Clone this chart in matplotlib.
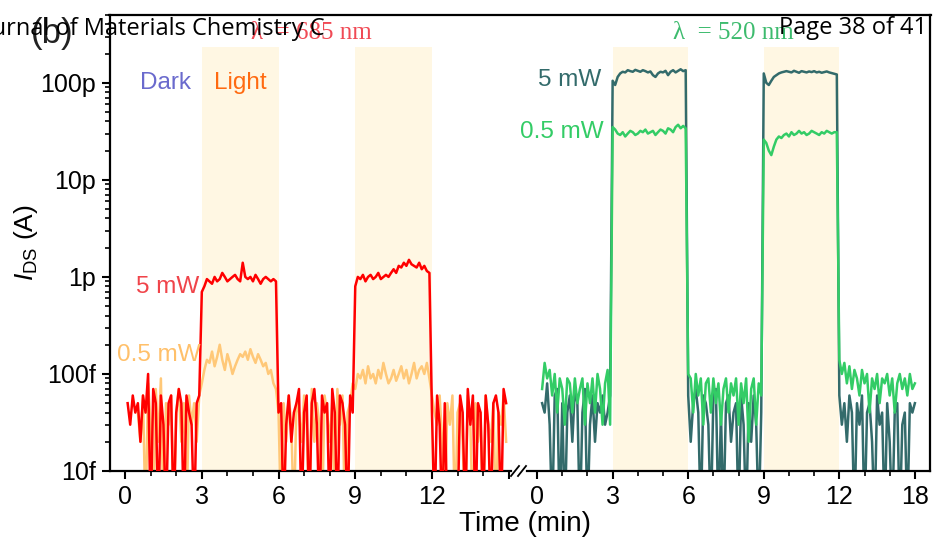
import numpy as np
import matplotlib
matplotlib.use("Agg")
import matplotlib.pyplot as plt
from matplotlib.lines import Line2D
from matplotlib.ticker import FixedLocator, MultipleLocator, LogLocator, NullFormatter, FixedFormatter

plt.rcParams['font.family'] = ['Liberation Sans', 'DejaVu Sans']
plt.rcParams['mathtext.fontset'] = 'custom'
plt.rcParams['mathtext.rm'] = 'Liberation Sans'
plt.rcParams['mathtext.it'] = 'Liberation Sans:italic'

# ---------------- data (currents in fA; 0 = below 10 fA) ----------------
# Left panel: 685 nm illumination, sampled every 0.1 min from 0.1 to 14.9 min
t_685 = np.round(np.arange(1, 150) * 0.1, 1)

red_5mW = [
    # dark 0.1-2.9
    50, 30, 60, 40, 50, 20, 60, 40, 100, 0, 70, 50, 0, 60, 30, 0, 50, 60, 0, 40, 70, 50, 0, 60, 40, 30, 0, 50, 60,
    # light 3.0-5.9
    700, 800, 950, 900, 850, 1000, 900, 950, 1100, 1000, 900, 950, 1000, 1050, 950, 900, 1400, 1000, 950, 1000,
    900, 1050, 950, 850, 950, 1000, 950, 900, 950, 900,
    # dark 6.0-8.9
    40, 50, 0, 30, 60, 20, 40, 50, 70, 0, 40, 60, 0, 50, 70, 30, 0, 60, 40, 50, 0, 70, 40, 0, 60, 50, 30, 0, 60, 40,
    # light 9.0-11.9
    800, 1000, 950, 1050, 900, 1000, 1050, 950, 1000, 1100, 950, 1000, 1050, 1000, 1100, 1200, 1100, 1300, 1250, 1400,
    1300, 1500, 1350, 1300, 1250, 1400, 1200, 1300, 1150, 1100,
    # dark 12.0-14.9
    40, 0, 60, 30, 0, 50, 0, 0, 0, 0, 0, 60, 40, 0, 70, 30, 60, 0, 50, 40, 0, 60, 30, 0, 50, 60, 40, 0, 70, 50,
]

orange_05mW = [
    # dark 0.1-2.9
    np.nan, np.nan, np.nan, np.nan, 40, 20, 60, 0, 80, 30, 0, 70, 20, 90, 0, 50, 30, 60, 0, 40, 70, 20, 50, 0, 60, 30,
    50, 20, 60,
    # light 3.0-5.9
    80, 110, 140, 130, 170, 120, 150, 200, 140, 110, 160, 130, 100, 120, 140, 160, 150, 170, 140, 180,
    150, 130, 160, 140, 120, 130, 100, 110, 80, 70,
    # dark 6.0-8.9
    40, 0, 50, 20, 60, 30, 0, 50, 40, 20, 60, 30, 0, 70, 20, 50, 30, 0, 60, 40, 20, 50, 0, 70, 30, 60, 0, 40, 50, 80,
    # light 9.0-11.9
    70, 100, 90, 110, 80, 120, 90, 100, 80, 110, 90, 130, 100, 80, 90, 110, 85, 100, 120, 90,
    110, 80, 100, 130, 90, 110, 120, 100, 130, 90,
    # dark 12.0-14.9
    60, 40, 30, 60, 20, 0, 50, 30, 60, 0, 40, 50, 20, 0, 60, 30, 0, 50, 20, 40, 0, 60, 30, 20, 50, 0, 40, 30, 60, 20,
]

# Right panel: 520 nm illumination, sampled every 0.1 min from 0.2 to 15.0 min
t_520 = np.round(np.arange(2, 151) * 0.1, 1)

teal_5mW = [
    # dark 0.2-2.9
    50, 40, 80, 30, 0, 60, 70, 0, 50, 0, 40, 60, 20, 70, 50, 0, 40, 70, 0, 30, 60, 20, 50, 40, 60, 30, 40, 60,
    # light 3.0-5.9
    105000, 95000, 115000, 125000, 130000, 128000, 135000, 132000, 130000, 136000, 133000, 130000, 135000, 132000,
    128000, 131000, 120000, 115000, 125000, 130000, 128000, 133000, 120000, 130000, 135000, 128000, 133000, 138000,
    132000, 135000,
    # dark 6.0-8.9
    60, 20, 50, 70, 40, 0, 60, 50, 30, 0, 60, 70, 0, 40, 0, 50, 60, 20, 40, 50, 0, 60, 30, 0, 50, 20, 60, 30, 0, 40,
    # light 9.0-11.9
    125000, 100000, 95000, 105000, 115000, 120000, 125000, 128000, 130000, 132000, 130000, 128000, 133000, 130000,
    127000, 132000, 130000, 128000, 131000, 129000, 132000, 128000, 130000, 127000, 129000, 131000, 128000, 126000,
    124000, 122000,
    # dark 12.0-15.0
    60, 30, 50, 20, 60, 40, 0, 50, 30, 60, 0, 40, 50, 20, 0, 60, 30, 40, 0, 50, 20, 0, 40, 50, 0, 30, 40, 0, 50, 40, 50,
]

green_05mW = [
    # dark 0.2-2.9
    70, 130, 90, 110, 60, 100, 40, 90, 70, 30, 90, 80, 40, 90, 50, 70, 90, 30, 80, 50, 90, 40, 100, 70, 30, 80, 110, 30,
    # light 3.0-5.9
    35000, 33000, 30000, 29000, 31000, 28000, 30000, 32000, 31000, 29000, 30000, 32000, 31000, 33000, 30000, 31000,
    32000, 29000, 31000, 33000, 32000, 30000, 34000, 33000, 31000, 35000, 37000, 34000, 36000, 34000,
    # dark 6.0-8.9
    100, 90, 40, 100, 60, 90, 30, 80, 90, 40, 90, 50, 80, 30, 70, 90, 40, 80, 60, 90, 30, 80, 50, 90, 20, 70, 90, 30,
    80, 60,
    # light 9.0-11.9
    26000, 24000, 20000, 18000, 22000, 26000, 28000, 27000, 29000, 30000, 28000, 31000, 29000, 30000, 32000, 30000,
    31000, 29000, 30000, 32000, 31000, 30000, 29000, 31000, 30000, 32000, 31000, 30000, 31000, 31000,
    # dark 12.0-15.0
    140, 100, 130, 80, 120, 70, 110, 90, 60, 110, 80, 100, 40, 90, 70, 100, 50, 90, 80, 100, 60, 90, 40, 80, 100, 70,
    90, 60, 100, 70, 80,
]

light_windows = [(3, 6), (9, 12)]
y_ticks = [1e-14, 1e-13, 1e-12, 1e-11, 1e-10]
y_ticklabels = ['10f', '100f', '1p', '10p', '100p']
left_xticks = [0, 3, 6, 9, 12, 15]
left_xticklabels = ['0', '3', '6', '9', '12', '']
right_xticks = [0, 3, 6, 9, 12, 15]
right_xticklabels = ['0', '3', '6', '9', '12', '18']


def to_amps(vals):
    a = np.array(vals, dtype=float) * 1e-15
    a[a == 0] = 3e-15  # below 10 fA floor -> clipped at bottom
    return a


W, H = 936, 553
fig = plt.figure(figsize=(W / 100, H / 100), dpi=100)


def fx(px):
    return px / W


def fy(py):
    return 1 - py / H


ax_l = fig.add_axes([fx(110), fy(471), fx(511) - fx(110), fy(15) - fy(471)])
ax_r = fig.add_axes([fx(527), fy(471), fx(930) - fx(527), fy(15) - fy(471)])

shade = '#FFF7E3'
for ax in (ax_l, ax_r):
    ax.set_yscale('log')
    ax.set_ylim(1e-14, 5e-10)
    for a, b in light_windows:
        ax.axvspan(a, b, ymin=0, ymax=0.93, color=shade, lw=0, zorder=0)
    ax.xaxis.set_minor_locator(MultipleLocator(1))
    ax.tick_params(axis='both', which='major', direction='out', length=6, width=1.5, labelsize=18, pad=4)
    ax.tick_params(axis='both', which='minor', direction='out', length=3.5, width=1.2)
    for s in ax.spines.values():
        s.set_linewidth(1.6)
    ax.spines['top'].set_visible(False)

ax_l.plot(t_685, to_amps(orange_05mW), color='#FFC878', lw=1.8, zorder=2)
ax_l.plot(t_685, to_amps(red_5mW), color='#FF0000', lw=1.8, zorder=3)
ax_r.plot(t_520, to_amps(teal_5mW), color='#336B6B', lw=1.8, zorder=2)
ax_r.plot(t_520, to_amps(green_05mW), color='#33CC66', lw=1.8, zorder=3)

ax_l.set_xlim(-0.59, 15.09)
ax_r.set_xlim(-0.4, 15.6)
ax_l.xaxis.set_major_locator(FixedLocator(left_xticks))
ax_l.xaxis.set_major_formatter(FixedFormatter(left_xticklabels))
ax_r.xaxis.set_major_locator(FixedLocator(right_xticks))
ax_r.xaxis.set_major_formatter(FixedFormatter(right_xticklabels))

ax_l.yaxis.set_major_locator(FixedLocator(y_ticks))
ax_l.yaxis.set_major_formatter(FixedFormatter(y_ticklabels))
ax_l.yaxis.set_minor_locator(LogLocator(base=10, subs=np.arange(2, 10)))
ax_l.yaxis.set_minor_formatter(NullFormatter())

ax_r.tick_params(axis='y', which='both', left=False, labelleft=False)
ax_l.spines['right'].set_visible(False)
ax_r.spines['left'].set_visible(False)

# one continuous top frame line across both panels
fig.add_artist(Line2D([fx(109.2), fx(930.8)], [fy(15), fy(15)], color='black', lw=1.6,
                      solid_capstyle='projecting'))
# break marks
for dx in (0, 7):
    fig.add_artist(Line2D([fx(511 + dx), fx(519 + dx)], [fy(476), fy(466)], color='black', lw=1.3))

ax_l.set_ylabel(r'$\mathit{I}_{\mathrm{DS}}$ (A)', fontsize=19)
ax_l.yaxis.set_label_coords(-0.175, 0.5)
fig.text(fx(525), fy(524), 'Time (min)', ha='center', va='center', fontsize=20)

# annotations
fig.text(fx(311), fy(33), 'λ  = 685 nm', color='#F04A55', ha='center', va='center', fontsize=18,
         family=['Liberation Serif', 'DejaVu Serif'])
fig.text(fx(733), fy(33), 'λ  = 520 nm', color='#3DBB6E', ha='center', va='center', fontsize=18,
         family=['Liberation Serif', 'DejaVu Serif'])
fig.text(fx(166), fy(83), 'Dark', color='#6A6ACD', ha='center', va='center', fontsize=17.5)
fig.text(fx(240), fy(83), 'Light', color='#FF6A10', ha='center', va='center', fontsize=17.5)
fig.text(fx(199), fy(287), '5 mW', color='#F0444A', ha='right', va='center', fontsize=17.5)
fig.text(fx(201), fy(355), '0.5 mW', color='#FFC06A', ha='right', va='center', fontsize=17.5)
fig.text(fx(601), fy(80), '5 mW', color='#336B6B', ha='right', va='center', fontsize=17.5)
fig.text(fx(604), fy(132), '0.5 mW', color='#33CC66', ha='right', va='center', fontsize=17.5)

# page overlay texts
fig.text(fx(52), fy(33), '(b)', ha='center', va='center', fontsize=25, color='#222222')
fig.text(fx(326), fy(29), 'Journal of Materials Chemistry C', ha='right', va='center', fontsize=17,
         family=['Open Sans', 'DejaVu Sans'])
fig.text(fx(927), fy(28), 'Page 38 of 41', ha='right', va='center', fontsize=17,
         family=['Open Sans', 'DejaVu Sans'])

fig.savefig('out.png', dpi=100)
